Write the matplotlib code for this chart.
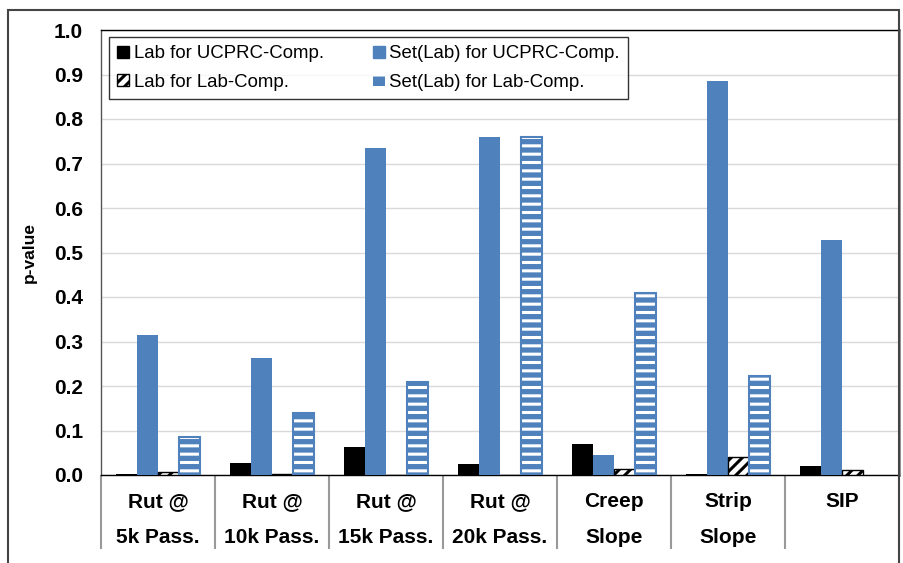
import matplotlib
matplotlib.use("Agg")
import matplotlib.pyplot as plt
from matplotlib.patches import Rectangle, Patch
import numpy as np

categories = ["Rut @\n5k Pass.", "Rut @\n10k Pass.", "Rut @\n15k Pass.", "Rut @\n20k Pass.",
              "Creep\nSlope", "Strip\nSlope", "SIP"]
lab_ucprc = [0.003, 0.027, 0.063, 0.025, 0.070, 0.002, 0.020]
set_ucprc = [0.315, 0.263, 0.735, 0.760, 0.045, 0.886, 0.528]
lab_lab = [0.007, 0.002, 0.001, 0.001, 0.013, 0.040, 0.012]
set_lab = [0.085, 0.140, 0.208, 0.760, 0.410, 0.222, np.nan]
series_names = ["Lab for UCPRC-Comp.", "Set(Lab) for UCPRC-Comp.",
                "Lab for Lab-Comp.", "Set(Lab) for Lab-Comp."]
yticks = [0.0, 0.1, 0.2, 0.3, 0.4, 0.5, 0.6, 0.7, 0.8, 0.9, 1.0]

BLUE = "#4F81BD"
plt.rcParams['font.family'] = ['Liberation Sans', 'DejaVu Sans']
plt.rcParams['hatch.linewidth'] = 2.2

fig = plt.figure(figsize=(9.04, 5.63), dpi=100)
ax = fig.add_axes([101/904, 1-475/563, (899-101)/904, (475-30)/563])

x = np.arange(len(categories))
w = 0.184
ax.bar(x - 1.5*w, lab_ucprc, w, color="black", zorder=3)
ax.bar(x - 0.5*w, set_ucprc, w, color=BLUE, zorder=3)
ax.bar(x + 0.5*w, lab_lab, w, facecolor="white", edgecolor="black", hatch="///", linewidth=1.0, zorder=3)
ax.bar(x + 1.5*w, set_lab, w, color=BLUE, zorder=3)
ax.bar(x + 1.5*w, set_lab, w, facecolor="none", edgecolor="white", hatch="--", linewidth=0, zorder=4)
ax.bar(x + 1.5*w, set_lab, w, facecolor="none", edgecolor=BLUE, linewidth=1.5, zorder=5)

ax.set_xlim(-0.5, len(categories) - 0.5)
ax.set_ylim(0, 1.0)
ax.set_yticks(yticks)
ax.set_yticklabels([f"{v:.1f}" for v in yticks], fontsize=15, fontweight="bold")
ax.tick_params(axis="y", length=0, pad=13)
ax.yaxis.grid(True, color="#d9d9d9", linewidth=1.0, zorder=0)
ax.set_axisbelow(True)
ax.set_ylabel("p-value", fontsize=12.5, fontweight="bold", labelpad=12)

ax.set_xticks(np.arange(len(categories) + 1) - 0.5)
ax.set_xticklabels([])
ax.tick_params(axis="x", which="major", length=53, width=1.5, color="#999999", direction="out")
ax.set_xticks(x, minor=True)
ax.set_xticklabels(categories, minor=True, fontsize=15, fontweight="bold", linespacing=2.15)
ax.tick_params(axis="x", which="minor", length=0, pad=12)

for s in ["top", "bottom"]:
    ax.spines[s].set_color("black")
    ax.spines[s].set_linewidth(1.0)
ax.spines["left"].set_color("#555555")
ax.spines["left"].set_linewidth(1.0)
ax.spines["right"].set_color("#888888")
ax.spines["right"].set_linewidth(2.0)

handles = [
    Patch(facecolor="black", edgecolor="black", label=series_names[0]),
    Patch(facecolor="white", edgecolor="black", hatch="///", label=series_names[2]),
    Patch(facecolor=BLUE, edgecolor=BLUE, label=series_names[1]),
    Patch(facecolor=BLUE, edgecolor="white", hatch="-", linewidth=0, label=series_names[3]),
]
leg = ax.legend(handles=handles, ncol=2, loc="upper left", bbox_to_anchor=(8/798, 1-7/445),
                fontsize=13.4, frameon=True, fancybox=False, edgecolor="black",
                handlelength=0.65, handleheight=0.65, handletextpad=0.25, columnspacing=2.6,
                borderpad=0.45, labelspacing=0.6, borderaxespad=0)
leg.get_frame().set_linewidth(1.0)
leg.set_zorder(10)

fig.patches.append(Rectangle((8/904, -0.1), (899-8)/904, 1.1 - 10/563, transform=fig.transFigure,
                             fill=False, edgecolor="#444444", linewidth=1.5, zorder=0))

fig.savefig("out.png", dpi=100)
